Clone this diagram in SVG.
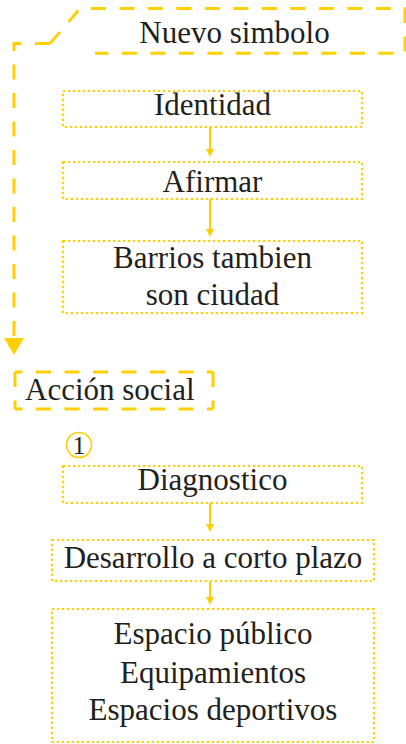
<svg xmlns="http://www.w3.org/2000/svg" width="406" height="744" viewBox="0 0 406 744" font-family="Liberation Serif">
<style>
.dot{fill:none;stroke:#ffd000;stroke-width:2.2;stroke-dasharray:2.2 2.8}
.dash{fill:none;stroke:#ffd000;stroke-width:3;stroke-dasharray:15 13.5}
.ln{fill:none;stroke:#ffd000;stroke-width:2}
.ah{fill:#ffd000}
</style>
<rect width="406" height="744" fill="#fff"/>
<g id="connectors">
<path class="dash" d="M50,43.5 H14 V342"/>
<polygon class="ah" points="4,338 24,338 14,355"/>
<line class="ln" x1="210" y1="127" x2="210" y2="150"/>
<polygon class="ah" points="206,149 214,149 210,157"/>
<line class="ln" x1="210" y1="199" x2="210" y2="230"/>
<polygon class="ah" points="206,229 214,229 210,237"/>
<line class="ln" x1="210" y1="503" x2="210" y2="525"/>
<polygon class="ah" points="206,524 214,524 210,532"/>
<line class="ln" x1="210" y1="581" x2="210" y2="598"/>
<polygon class="ah" points="206,597 214,597 210,605"/>
</g>
<g id="nuevo-simbolo">
<path class="dash" d="M50,43.5 L80,8.5 H405 V53.3 H95"/>
<text x="234.5" y="43" font-family="Liberation Serif" font-size="31" fill="#231f20" text-anchor="middle">Nuevo simbolo</text>
</g>
<g id="identidad">
<rect class="dot" x="63" y="91" width="299" height="36"/>
<text x="212.5" y="115" font-family="Liberation Serif" font-size="31" fill="#231f20" text-anchor="middle">Identidad</text>
</g>
<g id="afirmar">
<rect class="dot" x="63" y="162" width="299" height="37"/>
<text x="212.5" y="192" font-family="Liberation Serif" font-size="31" fill="#231f20" text-anchor="middle">Afirmar</text>
</g>
<g id="barrios">
<rect class="dot" x="63" y="241" width="299" height="72"/>
<text x="212.5" y="268" font-family="Liberation Serif" font-size="31" fill="#231f20" text-anchor="middle">Barrios tambien</text>
<text x="212.5" y="305" font-family="Liberation Serif" font-size="31" fill="#231f20" text-anchor="middle">son ciudad</text>
</g>
<g id="accion-social">
<path class="dash" d="M15,372 H213" stroke-dasharray="15 13.29" stroke-dashoffset="7.5"/>
<path class="dash" d="M15,409 H213" stroke-dasharray="15 13.29" stroke-dashoffset="7.5"/>
<path class="dash" d="M15,372 V409" stroke-dasharray="9.5 18"/>
<path class="dash" d="M213,372 V409" stroke-dasharray="9.5 18"/>
<text x="25" y="400" font-family="Liberation Serif" font-size="31" fill="#231f20">Acción social</text>
</g>
<g id="step-1">
<circle cx="79" cy="445" r="12.5" fill="none" stroke="#ffd000" stroke-width="1.6"/>
<text x="79" y="453.5" font-family="Liberation Serif" font-size="25" fill="#231f20" text-anchor="middle">1</text>
</g>
<g id="diagnostico">
<rect class="dot" x="63" y="466" width="299" height="37"/>
<text x="212.5" y="490" font-family="Liberation Serif" font-size="31" fill="#231f20" text-anchor="middle">Diagnostico</text>
</g>
<g id="desarrollo">
<rect class="dot" x="52" y="540" width="322" height="41"/>
<text x="213" y="568" font-family="Liberation Serif" font-size="31" fill="#231f20" text-anchor="middle">Desarrollo a corto plazo</text>
</g>
<g id="espacios">
<rect class="dot" x="52" y="609" width="322" height="133"/>
<text x="213" y="644" font-family="Liberation Serif" font-size="31" fill="#231f20" text-anchor="middle">Espacio público</text>
<text x="213" y="683" font-family="Liberation Serif" font-size="31" fill="#231f20" text-anchor="middle">Equipamientos</text>
<text x="213" y="720" font-family="Liberation Serif" font-size="31" fill="#231f20" text-anchor="middle">Espacios deportivos</text>
</g>
</svg>
